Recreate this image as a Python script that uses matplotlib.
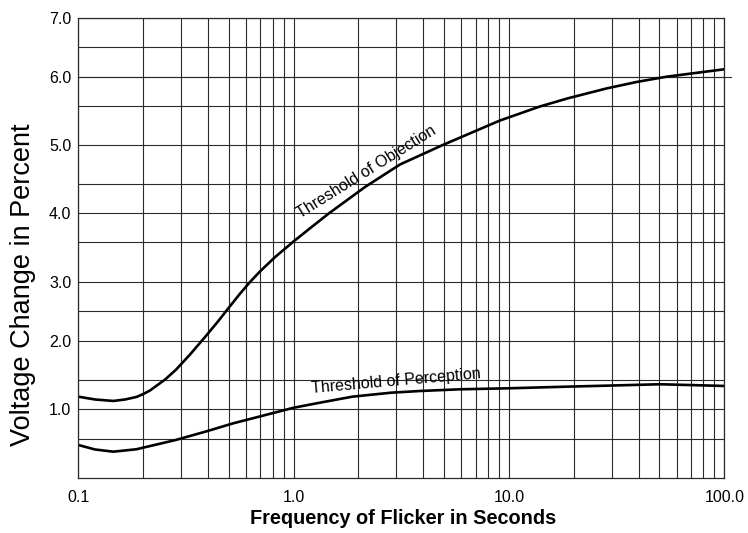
import matplotlib
matplotlib.use("Agg")
import matplotlib.pyplot as plt
import numpy as np

plt.rcParams['font.family'] = ['Liberation Sans', 'DejaVu Sans']

# Threshold of objection (upper curve)
obj_freq = [0.1, 0.1196, 0.1454, 0.1648, 0.186, 0.1998, 0.2153, 0.2527, 0.2843,
            0.3302, 0.3889, 0.4455, 0.5064, 0.5635, 0.6272, 0.698, 0.8196, 0.9965,
            1.191, 1.46, 2.145, 3.119, 4.873, 9.086, 13.94, 18.74, 28.44, 39.2,
            54.0, 100.0]
obj_volt = [1.215, 1.167, 1.142, 1.167, 1.210, 1.258, 1.321, 1.505, 1.631,
            1.824, 2.067, 2.325, 2.582, 2.795, 2.995, 3.130, 3.311, 3.509,
            3.740, 4.0, 4.453, 4.752, 4.994, 5.314, 5.494, 5.63, 5.80, 5.91,
            6.0, 6.126]

# Threshold of perception (lower curve)
per_freq = [0.1, 0.1196, 0.1454, 0.186, 0.2834, 0.3889, 0.5246, 0.9965, 1.326,
            1.873, 2.833, 3.863, 5.925, 9.97, 18.55, 28.44, 50.3, 100.0]
per_volt = [0.4225, 0.364, 0.336, 0.367, 0.487, 0.623, 0.764, 1.025, 1.113,
            1.215, 1.283, 1.312, 1.341, 1.358, 1.386, 1.403, 1.427, 1.398]

x_major = [0.1, 1.0, 10.0, 100.0]
x_major_labels = ["0.1", "1.0", "10.0", "100.0"]
y_major = [1.0, 2.0, 3.0, 4.0, 5.0, 6.0, 7.0]
y_major_labels = ["1.0", "2.0", "3.0", "4.0", "5.0", "6.0", "7.0"]

# the printed grid is not evenly ruled; map each half-step line to its height
y_knots = np.arange(0.0, 7.01, 0.5)
y_ruled = np.array([0, 38.7, 68.4, 97.7, 137.0, 166.7, 196.0, 235.5, 264.4,
                    293.4, 332.7, 371.7, 401.0, 430.4, 459.4])


def fwd(v):
    return np.interp(v, y_knots, y_ruled)


def inv(t):
    return np.interp(t, y_ruled, y_knots)


fig = plt.figure(figsize=(7.48, 5.33), dpi=100)
ax = fig.add_axes([0.1047, 0.1038, 0.8636, 0.8619])

grid_col = '#2a2a2a'
ax.set_xscale('log')
ax.set_yscale('function', functions=(fwd, inv))
ax.set_xlim(0.1, 100)
ax.set_ylim(0, 7)

ax.set_xticks(x_major)
ax.set_xticklabels(x_major_labels)
minor_x = [m * d for d in (0.1, 1, 10) for m in range(2, 10)]
ax.set_xticks(minor_x, minor=True)
ax.set_yticks(y_major)
ax.set_yticklabels(y_major_labels)
ax.set_yticks(np.arange(0.5, 7, 1.0), minor=True)
ax.xaxis.set_minor_formatter(plt.NullFormatter())

ax.grid(True, which='both', color=grid_col, linewidth=0.8)
ax.tick_params(which='both', length=0)
ax.tick_params(axis='x', pad=9, labelsize=11.5)
ax.tick_params(axis='y', pad=5, labelsize=11.5)
for s in ax.spines.values():
    s.set_color(grid_col)
    s.set_linewidth(0.9)

# the 6.0 rule runs a little past the frame
ax.axhline(6.0, xmin=0, xmax=1.01, color=grid_col, linewidth=0.8, clip_on=False)

ax.plot(obj_freq, obj_volt, color='black', linewidth=1.9)
ax.plot(per_freq, per_volt, color='black', linewidth=1.9)

ax.text(1.07, 3.913, "Threshold of Objection", rotation=32, rotation_mode='anchor',
        ha='left', va='baseline', fontsize=11.5)
ax.text(1.217, 1.278, "Threshold of Perception", rotation=5, rotation_mode='anchor',
        ha='left', va='baseline', fontsize=11.5)

fig.text(403 / 748, 1 - 519 / 533, "Frequency of Flicker in Seconds",
         ha='center', va='center', fontsize=14.3, fontweight='bold')
fig.text(23 / 748, 1 - 285 / 533, "Voltage Change in Percent",
         ha='center', va='center', rotation=90, fontsize=19.5)

fig.savefig("out.png", dpi=100)
